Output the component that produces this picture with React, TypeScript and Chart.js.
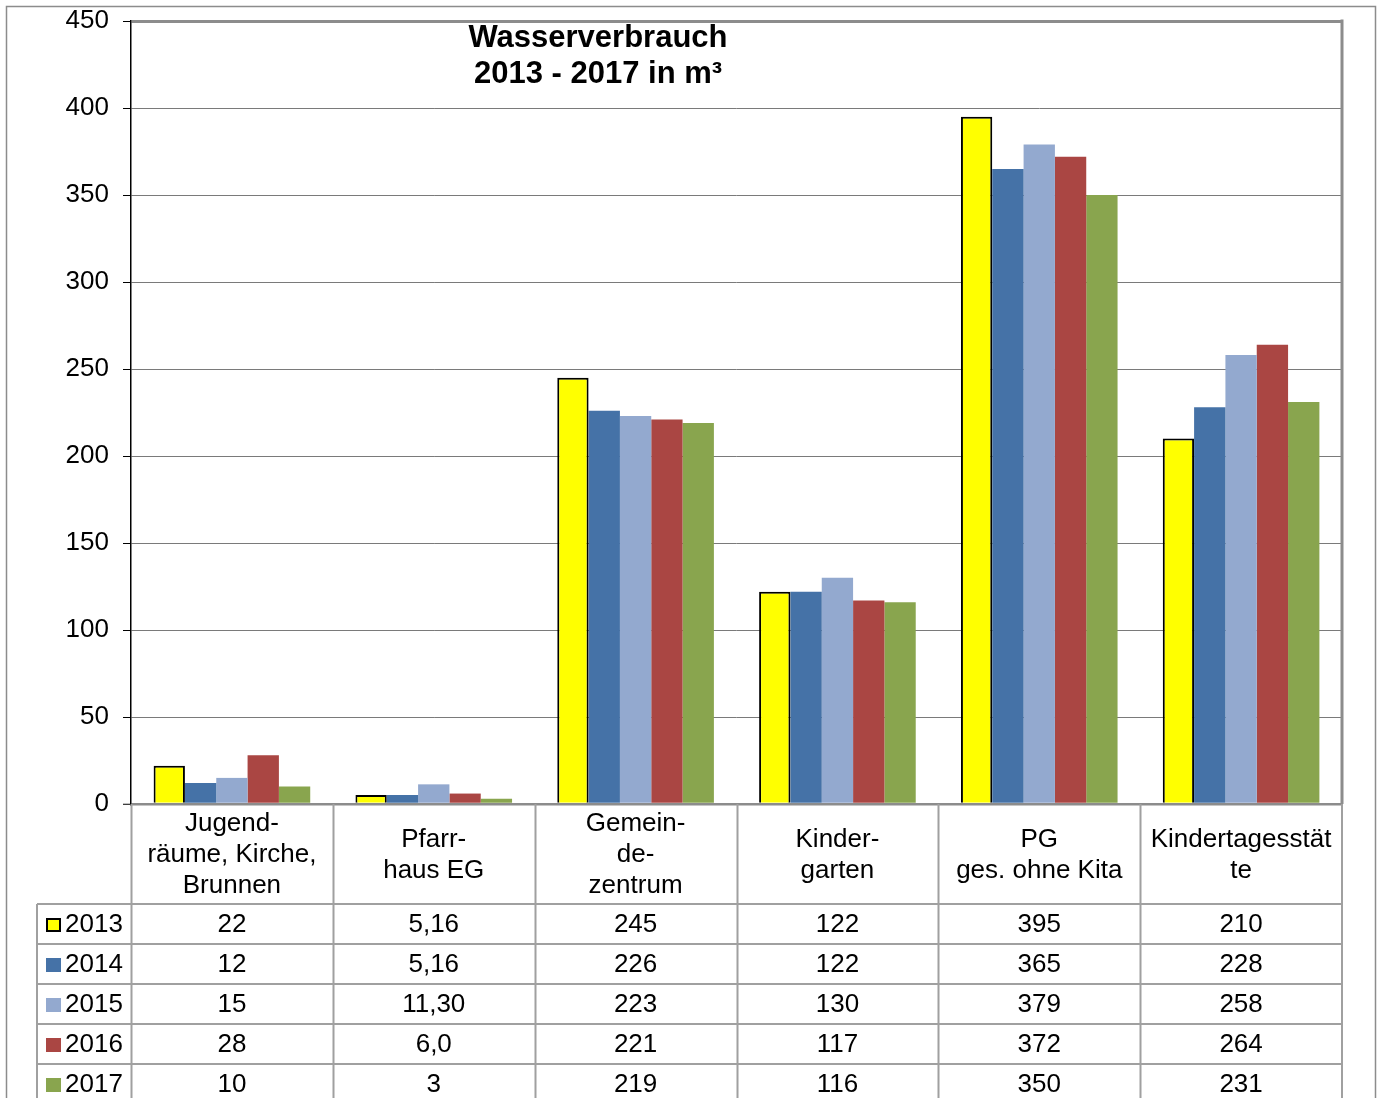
import React, { useEffect, useRef } from "react";
import { Chart, registerables } from "chart.js";

Chart.register(...registerables);

// ---- data ----
const categories: string[][] = [
  ["Jugend-", "räume, Kirche,", "Brunnen"],
  ["Pfarr-", "haus EG"],
  ["Gemein-", "de-", "zentrum"],
  ["Kinder-", "garten"],
  ["PG", "ges. ohne Kita"],
  ["Kindertagesstät", "te"],
];
const years = ["2013", "2014", "2015", "2016", "2017"];
// values as printed in the data table (German decimal comma)
const values2013 = ["22", "5,16", "245", "122", "395", "210"];
const values2014 = ["12", "5,16", "226", "122", "365", "228"];
const values2015 = ["15", "11,30", "223", "130", "379", "258"];
const values2016 = ["28", "6,0", "221", "117", "372", "264"];
const values2017 = ["10", "3", "219", "116", "350", "231"];
const seriesLabels = [values2013, values2014, values2015, values2016, values2017];
const yMin = 0;
const yMax = 450;
const yStep = 50;
const titleLines = ["Wasserverbrauch", "2013 - 2017 in m³"];

const colors = ["#FFFF00", "#4572A7", "#93A9CF", "#AA4643", "#89A54E"];
const FONT = "'Liberation Sans', Arial, sans-serif";

const toNum = (s: string) => parseFloat(s.replace(",", "."));

const framePlugin = {
  id: "excelFrame",
  afterDraw(chart: any) {
    const { ctx, chartArea, width } = chart;
    const xs = chart.scales.x;
    const n = chart.data.labels.length;
    const colW = xs.getPixelForValue(1) - xs.getPixelForValue(0);
    ctx.save();

    // outer frame
    ctx.strokeStyle = "#8c8c8c";
    ctx.lineWidth = 1.5;
    ctx.beginPath();
    ctx.moveTo(6.5, 1200);
    ctx.lineTo(6.5, 6.5);
    ctx.lineTo(width - 3.5, 6.5);
    ctx.lineTo(width - 3.5, 1200);
    ctx.stroke();

    // plot right border
    ctx.strokeStyle = "#8c8c8c";
    ctx.lineWidth = 3;
    ctx.beginPath();
    ctx.moveTo(chartArea.right, chartArea.top - 1.5);
    ctx.lineTo(chartArea.right, chartArea.bottom);
    ctx.stroke();

    // title
    ctx.fillStyle = "#000";
    ctx.font = `bold 31px ${FONT}`;
    ctx.textAlign = "center";
    ctx.textBaseline = "alphabetic";
    titleLines.forEach((t, i) => ctx.fillText(t, 598, 46.5 + i * 36));

    // data table
    const headTop = chartArea.bottom;
    const headBottom = headTop + 100;
    const rowH = 40;
    const legendLeft = 37;
    const tableBottom = headBottom + rowH * years.length;
    ctx.strokeStyle = "#a0a0a0";
    ctx.lineWidth = 2;
    ctx.beginPath();
    for (let i = 0; i <= n; i++) {
      const bx = Math.round(xs.getPixelForValue(i) - colW / 2) + 0.5;
      ctx.moveTo(i === n ? chartArea.right : bx, headTop);
      ctx.lineTo(i === n ? chartArea.right : bx, tableBottom);
    }
    ctx.moveTo(legendLeft, headBottom);
    ctx.lineTo(legendLeft, tableBottom);
    for (let r = 0; r <= years.length; r++) {
      const y = headBottom + r * rowH;
      ctx.moveTo(legendLeft, y);
      ctx.lineTo(chartArea.right, y);
    }
    ctx.stroke();

    ctx.font = `26px ${FONT}`;
    ctx.textBaseline = "middle";
    ctx.fillStyle = "#000";
    // header labels
    const lh = 31;
    const headMid = (headTop + headBottom) / 2 + 1;
    categories.forEach((lines, i) => {
      const cx = xs.getPixelForValue(i);
      const start = headMid - ((lines.length - 1) * lh) / 2;
      lines.forEach((l, k) => ctx.fillText(l, cx, start + k * lh));
    });
    // rows
    years.forEach((yr, r) => {
      const cy = headBottom + r * rowH + rowH / 2 + 1;
      ctx.fillStyle = colors[r];
      ctx.fillRect(46, cy - 7, 15, 14);
      if (r === 0) {
        ctx.strokeStyle = "#000";
        ctx.lineWidth = 2;
        ctx.strokeRect(47, cy - 6, 13, 12);
      }
      ctx.fillStyle = "#000";
      ctx.textAlign = "left";
      ctx.fillText(yr, 65, cy);
      ctx.textAlign = "center";
      seriesLabels[r].forEach((v, i) => ctx.fillText(v, xs.getPixelForValue(i), cy));
    });
    ctx.restore();
  },
};

export default function App() {
  const ref = useRef<HTMLCanvasElement | null>(null);
  useEffect(() => {
    document.body.style.margin = "0";
    document.body.style.overflow = "hidden";
    const canvas = ref.current;
    if (!canvas) return;
    const chart = new Chart(canvas, {
      type: "bar",
      data: {
        labels: categories,
        datasets: years.map((yr, r) => ({
          label: yr,
          data: seriesLabels[r].map(toNum),
          backgroundColor: colors[r],
          borderColor: "#000",
          borderWidth: r === 0 ? 2 : 0,
          categoryPercentage: 0.776,
          barPercentage: 1.0,
        })),
      },
      options: {
        responsive: false,
        animation: false,
        layout: { padding: { left: 0, top: 21, right: 37, bottom: 294 } },
        plugins: {
          legend: { display: false },
          title: { display: false },
          tooltip: { enabled: false },
        },
        scales: {
          x: { display: false },
          y: {
            min: yMin,
            max: yMax,
            ticks: {
              stepSize: yStep,
              color: "#000",
              font: { family: FONT, size: 26 },
              padding: 14,
            },
            grid: {
              color: (c: any) =>
                c.tick && (c.tick.value === yMax || c.tick.value === yMin) ? "#8c8c8c" : "#7a7a7a",
              lineWidth: (c: any) =>
                c.tick && c.tick.value === yMax ? 3 : c.tick && c.tick.value === yMin ? 2.5 : 1,
              tickColor: "#000",
              tickLength: 8,
              tickWidth: 1,
            },
            border: { color: "#000", width: 1.5 },
            afterFit: (scale: any) => {
              scale.width = 131;
              scale.paddingTop = 0;
              scale.paddingBottom = 0;
            },
          },
        },
      },
      plugins: [framePlugin],
    });
    return () => chart.destroy();
  }, []);
  return (
    <canvas
      ref={ref}
      width={1379}
      height={1098}
      style={{ display: "block", width: 1379, height: 1098 }}
    />
  );
}
